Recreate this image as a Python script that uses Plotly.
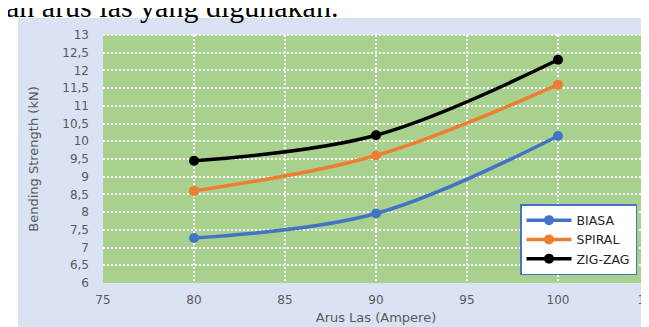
import plotly.graph_objects as go

arus = [80, 90, 100]
biasa = [7.27, 7.96, 10.15]
spiral = [8.6, 9.6, 11.6]
zigzag = [9.45, 10.17, 12.3]

series_names = ["BIASA", "SPIRAL", "ZIG-ZAG"]
series_colors = ["#4472C4", "#ED7D31", "#000000"]

caption = "an arus las yang digunakan."
x_title = "Arus Las (Ampere)"
y_title = "Bending Strength (kN)"

W, H = 649, 327
L, R, T, B = 95, 8, 27, 52
pw = W - L - R
ph = H - T - B

def px_x(p):
    return (p - L) / pw

def px_y(p):
    return (H - B - p) / ph

fig = go.Figure()
for name, vals, col in zip(series_names, [biasa, spiral, zigzag], series_colors):
    fig.add_trace(go.Scatter(
        x=arus, y=vals, name=name, mode="lines+markers",
        line=dict(color=col, width=3.5, shape="spline"),
        marker=dict(color=col, size=10),
    ))

grid = dict(showgrid=True, gridcolor="white", gridwidth=1.5, griddash="2px,2px",
            zeroline=False, showline=False, ticks="", automargin=False,
            ticklabeloverflow="allow",
            tickfont=dict(family="DejaVu Sans", size=12, color="#595959"))

edge = dict(color="white", width=1.5, dash="2px,2px")

fig.update_layout(
    width=W, height=H,
    margin=dict(l=L, r=R, t=T, b=B),
    paper_bgcolor="white",
    plot_bgcolor="rgba(0,0,0,0)",
    separators=",.",
    font=dict(family="DejaVu Sans", color="#595959"),
    xaxis=dict(range=[75, 105], dtick=5, tick0=75, ticklabelstandoff=8,
               title=dict(text=x_title, font=dict(size=13, color="#595959"), standoff=6),
               **grid),
    yaxis=dict(range=[6, 13], dtick=0.5, tick0=6, ticklabelstandoff=13,
               title=dict(text=y_title, font=dict(size=13, color="#595959"), standoff=20),
               **grid),
    legend=dict(x=px_x(629), y=px_y(267), xanchor="right", yanchor="bottom",
                bgcolor="white", bordercolor="#4472C4", borderwidth=1.5,
                font=dict(family="DejaVu Sans", size=12.5, color="#262626"),
                tracegroupgap=0, itemwidth=45),
    showlegend=True,
    shapes=[
        dict(type="rect", xref="paper", yref="paper",
             x0=px_x(10), x1=px_x(655), y0=px_y(325), y1=px_y(10),
             fillcolor="#DAE3F3", line=dict(width=0), layer="below"),
        dict(type="rect", xref="x domain", yref="y domain",
             x0=0, x1=1, y0=0, y1=1,
             fillcolor="#A9D18E", line=dict(width=0), layer="below"),
        dict(type="line", xref="x domain", yref="y domain",
             x0=0, x1=1, y0=1, y1=1, line=edge, layer="below"),
        dict(type="line", xref="x domain", yref="y domain",
             x0=1, x1=1, y0=0, y1=1, line=edge, layer="below"),
    ],
    annotations=[
        dict(text=caption, xref="paper", yref="paper",
             x=px_x(-4), y=px_y(17), xanchor="left", yanchor="bottom",
             showarrow=False,
             font=dict(family="Liberation Serif", size=30, color="black")),
    ],
)

fig.write_html("out.html")
